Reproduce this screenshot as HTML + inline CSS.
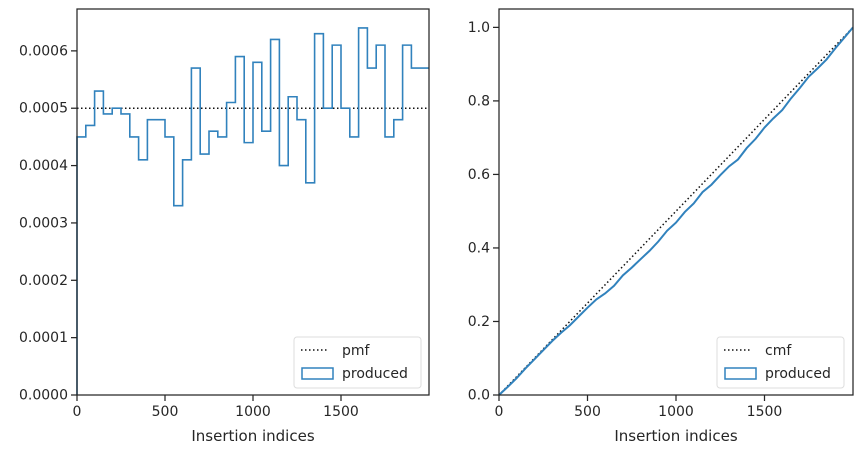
<!DOCTYPE html>
<html><head><meta charset="utf-8"><style>
body{margin:0;background:#fff;font-family:"Liberation Sans","DejaVu Sans",sans-serif}
svg text{font-family:"DejaVu Sans","Liberation Sans",sans-serif;fill:#262626}
</style></head><body>
<svg id="c" width="861" height="453" viewBox="0 0 861 453"></svg>
<script>
const binEdgesStart = 0;
const binWidth = 50;
const pmfValues = [0.00045,0.00047,0.00053,0.00049,0.0005,0.00049,0.00045,0.00041,0.00048,0.00048,
0.00045,0.00033,0.00041,0.00057,0.00042,0.00046,0.00045,0.00051,0.00059,0.00044,
0.00058,0.00046,0.00062,0.0004,0.00052,0.00048,0.00037,0.00063,0.0005,0.00061,
0.0005,0.00045,0.00064,0.00057,0.00061,0.00045,0.00048,0.00061,0.00057,0.00057];
const expectedPmf = 0.0005;
const leftYTicks = [0,0.0001,0.0002,0.0003,0.0004,0.0005,0.0006];
const leftYLabels = ["0.0000","0.0001","0.0002","0.0003","0.0004","0.0005","0.0006"];
const xTicks = [0,500,1000,1500];
const rightYTicks = [0,0.2,0.4,0.6,0.8,1.0];
const rightYLabels = ["0.0","0.2","0.4","0.6","0.8","1.0"];
const xMax = 2000;

const svg = document.getElementById('c');
const NS = 'http://www.w3.org/2000/svg';
function mk(tag, attrs, parent){const e=document.createElementNS(NS,tag);for(const k in attrs)e.setAttribute(k,attrs[k]);(parent||svg).appendChild(e);return e;}

function panel(L,R,T,B,yMax,yTicks,yLabels,name){
  const sx=v=>L+(v/xMax)*(R-L);
  const sy=v=>B-(v/yMax)*(B-T);
  const g=mk('g',{});
  
  
  return {sx,sy,g};
}
function axes(p,L,R,T,B,yTicks,yLabels){
  const fr=mk('rect',{x:L,y:T,width:R-L,height:B-T,fill:'none',stroke:'#262626','stroke-width':1.25},p.g);
  
  
  yTicks.forEach((v,i)=>{
    const y=p.sy(v);
    mk('line',{x1:L-6,x2:L,y1:y,y2:y,stroke:'#262626','stroke-width':1.25},p.g);
    const t=mk('text',{x:L-9,y:y+4.5,'text-anchor':'end','font-size':14},p.g);
    t.textContent=yLabels[i];
    
    
  });
  xTicks.forEach(v=>{
    const x=p.sx(v);
    mk('line',{x1:x,x2:x,y1:B,y2:B+6,stroke:'#262626','stroke-width':1.25},p.g);
    const t=mk('text',{x:x,y:B+21,'text-anchor':'middle','font-size':14},p.g);
    t.textContent=String(v);
    
    
  });
  const xt=mk('text',{x:(L+R)/2,y:B+46,'text-anchor':'middle','font-size':15},p.g);
  xt.textContent='Insertion indices';
  
  
}
function legend(p,x,y,label){
  const g=mk('g',{},p.g);
  
  
  mk('rect',{x:x,y:y,width:127,height:51,rx:3,fill:'#fff','fill-opacity':0.8,stroke:'#ddd'},g);
  mk('line',{x1:x+7,x2:x+35,y1:y+13,y2:y+13,stroke:'#111','stroke-width':1.5,'stroke-dasharray':'1.5,2.5'},g);
  const t1=mk('text',{x:x+48,y:y+18,'font-size':14},g);t1.textContent=label;
  
  
  mk('rect',{x:x+8,y:y+31,width:31,height:11,fill:'none',stroke:'#3182bd','stroke-width':1.5},g);
  const t2=mk('text',{x:x+48,y:y+41,'font-size':14},g);t2.textContent='produced';
  
  
}

// Left panel
(function(){
  const L=77,R=429,T=9,B=395;
  const p=panel(L,R,T,B,0.000673,leftYTicks,leftYLabels,'pmf-panel');
  const e=mk('line',{x1:L,x2:R,y1:p.sy(expectedPmf),y2:p.sy(expectedPmf),stroke:'#111','stroke-width':1.5,'stroke-dasharray':'1.5,2.5'},p.g);
  
  
  let d='M'+p.sx(binEdgesStart)+','+p.sy(0);
  pmfValues.forEach((v,i)=>{
    const x0=p.sx(binEdgesStart+i*binWidth),x1=p.sx(binEdgesStart+(i+1)*binWidth);
    d+=' L'+x0+','+p.sy(v)+' L'+x1+','+p.sy(v);
  });
  const h=mk('path',{d:d,fill:'none',stroke:'#3182bd','stroke-width':1.6},p.g);
  
  
  axes(p,L,R,T,B,leftYTicks,leftYLabels);
  legend(p,294,337,'pmf');
})();

// Right panel
(function(){
  const L=499,R=853,T=9,B=395;
  const p=panel(L,R,T,B,1.05,rightYTicks,rightYLabels,'cmf-panel');
  const e=mk('line',{x1:p.sx(0),x2:p.sx(xMax),y1:p.sy(0),y2:p.sy(1),stroke:'#111','stroke-width':1.5,'stroke-dasharray':'1.5,2.5'},p.g);
  
  
  const total=pmfValues.reduce((a,b)=>a+b,0);
  let c=0,d='M'+p.sx(0)+','+p.sy(0);
  pmfValues.forEach((v,i)=>{c+=v;d+=' L'+p.sx(binEdgesStart+(i+1)*binWidth)+','+p.sy(c/total);});
  const h=mk('path',{d:d,fill:'none',stroke:'#3182bd','stroke-width':2},p.g);
  
  
  axes(p,L,R,T,B,rightYTicks,rightYLabels);
  legend(p,717,337,'cmf');
})();
</script>
</body></html>
